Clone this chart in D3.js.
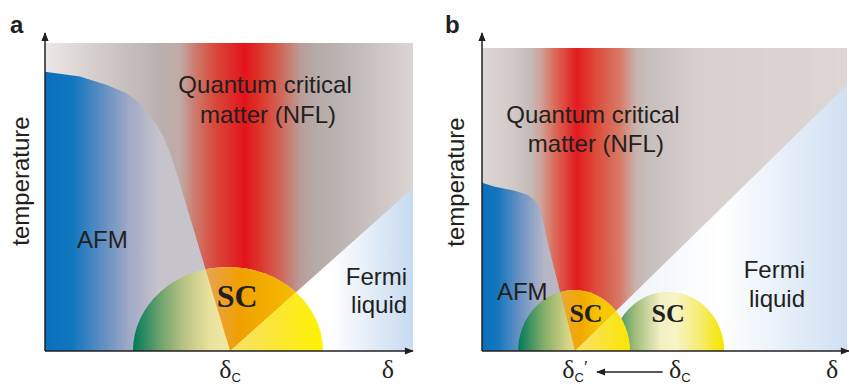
<!DOCTYPE html>
<html>
<head>
<meta charset="utf-8">
<script src="https://cdn.jsdelivr.net/npm/d3@7"></script>
<style>
  body { margin: 0; background: #fff; }
  svg { display: block; }
</style>
</head>
<body>
<svg id="chart" width="849" height="385"></svg>
<script>
/* DATA (doping on x, temperature on y, both 0-100) */
const afmBoundaryA = [[0, 90.7], [9.5, 89.1], [16.8, 86.4], [22.2, 83.7], [25.8, 80.4], [29.4, 75.0],
                      [32.2, 69.6], [34.0, 64.2], [35.8, 57.7], [50.3, 0]];
const fermiLineA   = [[50.3, 0], [100, 52.9]];
const domesA       = [{center: 49.7, halfWidth: 25.8, height: 27.3}];

const afmBoundaryB = [[0, 55.5], [3.5, 54.2], [9.0, 52.9], [12.6, 51.5], [14.4, 49.8], [15.8, 47.6],
                      [16.7, 43.2], [17.6, 37.7], [18.5, 33.3], [25.5, 0]];
const fermiLineB   = [[25.5, 0], [100, 87.8]];
const domesB       = [{center: 51.0, halfWidth: 15.3, height: 19.5},
                      {center: 25.2, halfWidth: 15.3, height: 20.1}];

/* region labels */
const regionLabelsA = [
  {text: "Quantum critical", x: 59.8, y: 83.8, anchor: "middle"},
  {text: "matter (NFL)",     x: 60.6, y: 74.0, anchor: "middle"},
  {text: "AFM",              x: 8.7,  y: 33.4, anchor: "start"},
  {text: "Fermi",            x: 98.4, y: 21.4, anchor: "end"},
  {text: "liquid",           x: 98.4, y: 12.3, anchor: "end"}
];
const scLabelsA = [{x: 52.2, y: 14.3, size: 32}];
const tickLabelsA = [{text: "δ", sub: "C", prime: "", x: 50.3}, {text: "δ", sub: "", prime: "", x: 93.2}];

const regionLabelsB = [
  {text: "Quantum critical", x: 30.4, y: 75.2, anchor: "middle"},
  {text: "matter (NFL)",     x: 31.2, y: 65.7, anchor: "middle"},
  {text: "AFM",              x: 4.1,  y: 16.8, anchor: "start"},
  {text: "Fermi",            x: 88.5, y: 24.1, anchor: "end"},
  {text: "liquid",           x: 88.5, y: 14.5, anchor: "end"}
];
const scLabelsB = [{x: 28.5, y: 9.6, size: 26}, {x: 51.0, y: 9.6, size: 26}];
const tickLabelsB = [{text: "δ", sub: "C", prime: "′", x: 25.5},
                     {text: "δ", sub: "C", prime: "", x: 54.2},
                     {text: "δ", sub: "", prime: "", x: 95.9}];

/* COLOUR STOPS (position in doping units, colour) */
const nflStopsA = [[0,"#ece8e7"],[15,"#d2cbc9"],[31,"#b9b1b0"],[36.7,"#c0aaa6"],[40.8,"#cc7a6c"],
  [46.2,"#d9493b"],[54.3,"#e3141c"],[59,"#dc3a2e"],[64.4,"#cf6a5c"],[69.3,"#bb9c96"],
  [73.4,"#b4aaa8"],[82.9,"#bfb8b6"],[100,"#dcd5d3"]];
const afmStopsA = [[0,"#0a70bd"],[7.3,"#0f76bf"],[15,"#5a8cc2"],[23,"#a2a9c6"],[31,"#c6c3cb"],[100,"#cac6cc"]];
const fermiStopsA = [[0,"#ffffff"],[77.4,"#ffffff"],[100,"#c6daf0"]];

const nflStopsB = [[0,"#ddd5d3"],[7.7,"#d3cbc9"],[13.2,"#c4bcba"],[15.9,"#cfa49a"],[20,"#dc6a58"],
  [26,"#e31a1e"],[31,"#dd4a3a"],[37.8,"#d77a66"],[41.9,"#c9b0aa"],[44.7,"#c6bebc"],
  [59.7,"#d8d0ce"],[100,"#ddd6d4"]];
const afmStopsB = [[0,"#0a70bd"],[4.4,"#1576bd"],[10.4,"#6a92c4"],[17.3,"#b8b6c6"],[100,"#c8c4ca"]];
const fermiStopsB = [[25.5,"#e0e9f4"],[37.8,"#eef3f9"],[65.2,"#ffffff"],[100,"#cfe0f2"]];

const domeStylesA = [{
  base:  [[23.9,"#007a5a"],[31.3,"#6ea26c"],[38,"#bcc486"],[44.8,"#e8e29c"],[50.3,"#f2e9a2"]],
  wedge: [[44.8,"#e9a24a"],[53,"#f0a000"],[63.9,"#f4b400"],[69.3,"#f6c000"]],
  fermi: [[50.3,"#f7e06a"],[63.9,"#fbe830"],[75.5,"#fff200"]]
}];
const dome2Stops = [[35.6,"#1a8a60"],[41.9,"#a0bc7a"],[48.8,"#f2efc4"],[52.9,"#f8f4c8"],[59.7,"#f6ec70"],[66,"#f5e600"]];
const domeStylesB = [
  {base: dome2Stops, wedge: dome2Stops, fermi: dome2Stops},
  {base:  [[9.9,"#007a5a"],[17.3,"#8ab06a"],[24.1,"#dcd886"]],
   wedge: [[21.4,"#eaa83a"],[27.1,"#f2a800"],[32.6,"#f5c800"]],
   fermi: [[25.5,"#f8e070"],[40.5,"#fbe600"]]}
];

const INK = "#231f20";
const svg = d3.select("#chart");
const defs = svg.append("defs");

defs.append("marker")
    .attr("id", "arrow")
    .attr("viewBox", "0 0 10 10")
    .attr("refX", 9).attr("refY", 5)
    .attr("markerUnits", "userSpaceOnUse")
    .attr("markerWidth", 10).attr("markerHeight", 9)
    .attr("orient", "auto")
  .append("path")
    .attr("d", "M0,1L10,5L0,9Z")
    .attr("fill", INK);

let uid = 0;
function gradient(x, stops) {
  const id = "g" + (uid++);
  defs.append("linearGradient")
      .attr("id", id)
      .attr("gradientUnits", "userSpaceOnUse")
      .attr("x1", x(0)).attr("x2", x(100)).attr("y1", 0).attr("y2", 0)
    .selectAll("stop")
    .data(stops)
    .join("stop")
      .attr("offset", d => d[0] / 100)
      .attr("stop-color", d => d[1]);
  return `url(#${id})`;
}

function drawPanel(p) {
  const x = d3.scaleLinear([0, 100], p.xRange);
  const y = d3.scaleLinear([0, 100], p.yRange);
  const line = d3.line().x(d => x(d[0])).y(d => y(d[1]));
  const g = svg.append("g");

  const afmPoly   = [[0, 0], ...p.afm];
  const fermiPoly = [...p.fermi, [100, 0]];
  const nflPoly   = [[0, 100], ...p.afm, ...p.fermi.slice(1), [100, 100]];

  const clipId = "plot" + p.name;
  defs.append("clipPath").attr("id", clipId)
    .append("rect")
      .attr("x", x(0)).attr("y", y(100))
      .attr("width", x(100) - x(0)).attr("height", y(0) - y(100));

  const plot = g.append("g").attr("clip-path", `url(#${clipId})`);

  /* background regions */
  plot.append("rect")
      .attr("x", x(0)).attr("y", y(100))
      .attr("width", x(100) - x(0)).attr("height", y(0) - y(100))
      .attr("fill", gradient(x, p.nflStops));
  plot.append("path").attr("d", line(afmPoly) + "Z").attr("fill", gradient(x, p.afmStops));
  plot.append("path").attr("d", line(fermiPoly) + "Z").attr("fill", gradient(x, p.fermiStops));

  /* superconducting domes */
  p.domes.forEach((dm, i) => {
    const st = p.domeStyles[i];
    const did = "dome" + p.name + i;
    defs.append("clipPath").attr("id", did)
      .append("ellipse")
        .attr("cx", x(dm.center)).attr("cy", y(0))
        .attr("rx", x(dm.center + dm.halfWidth) - x(dm.center))
        .attr("ry", y(0) - y(dm.height));
    const dg = plot.append("g").attr("clip-path", `url(#${did})`);
    dg.append("rect")
        .attr("x", x(0)).attr("y", y(100))
        .attr("width", x(100) - x(0)).attr("height", y(0) - y(100))
        .attr("fill", gradient(x, st.base));
    dg.append("path").attr("d", line(nflPoly) + "Z").attr("fill", gradient(x, st.wedge));
    dg.append("path").attr("d", line(fermiPoly) + "Z").attr("fill", gradient(x, st.fermi));
  });

  /* labels */
  g.selectAll("text.region")
    .data(p.regionLabels)
    .join("text")
      .attr("class", "region")
      .attr("x", d => x(d.x)).attr("y", d => y(d.y))
      .attr("text-anchor", d => d.anchor)
      .style("font-family", "'Liberation Sans', Arial, sans-serif")
      .style("font-size", "24px")
      .attr("fill", INK)
      .text(d => d.text);

  g.selectAll("text.sc")
    .data(p.scLabels)
    .join("text")
      .attr("class", "sc")
      .attr("x", d => x(d.x)).attr("y", d => y(d.y))
      .attr("text-anchor", "middle")
      .style("font-family", "'Liberation Serif', 'Times New Roman', serif")
      .style("font-weight", "bold")
      .style("font-size", d => d.size + "px")
      .attr("fill", INK)
      .text("SC");

  /* axes */
  g.append("line")
      .attr("x1", x(0)).attr("y1", y(0)).attr("x2", x(0)).attr("y2", 33)
      .attr("stroke", INK).attr("stroke-width", 1.5)
      .attr("marker-end", "url(#arrow)");
  g.append("line")
      .attr("x1", x(0)).attr("y1", y(0)).attr("x2", p.xArrowEnd).attr("y2", y(0))
      .attr("stroke", INK).attr("stroke-width", 1.5)
      .attr("marker-end", "url(#arrow)");

  const ticks = g.selectAll("text.tick")
    .data(p.tickLabels)
    .join("text")
      .attr("class", "tick")
      .attr("x", d => x(d.x)).attr("y", 378)
      .attr("text-anchor", "middle")
      .attr("fill", INK)
      .style("font-family", "'Liberation Serif', 'Times New Roman', serif")
      .style("font-size", "26px");
  ticks.append("tspan").text(d => d.text);
  ticks.filter(d => d.sub).append("tspan")
      .attr("dy", 4)
      .style("font-family", "'Liberation Sans', Arial, sans-serif")
      .style("font-size", "13px")
      .text(d => d.sub);
  ticks.filter(d => d.prime).append("tspan")
      .attr("dy", -8)
      .style("font-size", "18px")
      .text(d => d.prime);

  if (p.shiftArrow) {
    g.append("line")
        .attr("x1", x(p.shiftArrow[0])).attr("y1", 372)
        .attr("x2", x(p.shiftArrow[1])).attr("y2", 372)
        .attr("stroke", INK).attr("stroke-width", 1.5)
        .attr("marker-end", "url(#arrow)");
  }

  g.append("text")
      .attr("transform", `translate(${p.tempX},${p.tempY}) rotate(-90)`)
      .attr("text-anchor", "middle")
      .style("font-family", "'Liberation Sans', Arial, sans-serif")
      .style("font-size", "24px")
      .attr("fill", INK)
      .text("temperature");

  g.append("text")
      .attr("x", p.letterX).attr("y", 33)
      .style("font-family", "'Liberation Sans', Arial, sans-serif")
      .style("font-weight", "bold")
      .style("font-size", "24px")
      .attr("fill", INK)
      .text(p.name);
}

drawPanel({
  name: "a", xRange: [45, 413], yRange: [351, 43], xArrowEnd: 413,
  afm: afmBoundaryA, fermi: fermiLineA, domes: domesA, domeStyles: domeStylesA,
  nflStops: nflStopsA, afmStops: afmStopsA, fermiStops: fermiStopsA,
  regionLabels: regionLabelsA, scLabels: scLabelsA, tickLabels: tickLabelsA,
  tempX: 29, tempY: 181, letterX: 10
});
drawPanel({
  name: "b", xRange: [482, 847], yRange: [351, 48], xArrowEnd: 849,
  afm: afmBoundaryB, fermi: fermiLineB, domes: domesB, domeStyles: domeStylesB,
  nflStops: nflStopsB, afmStops: afmStopsB, fermiStops: fermiStopsB,
  regionLabels: regionLabelsB, scLabels: scLabelsB, tickLabels: tickLabelsB,
  shiftArrow: [49.5, 31.5],
  tempX: 464, tempY: 182, letterX: 445
});
</script>
</body>
</html>
